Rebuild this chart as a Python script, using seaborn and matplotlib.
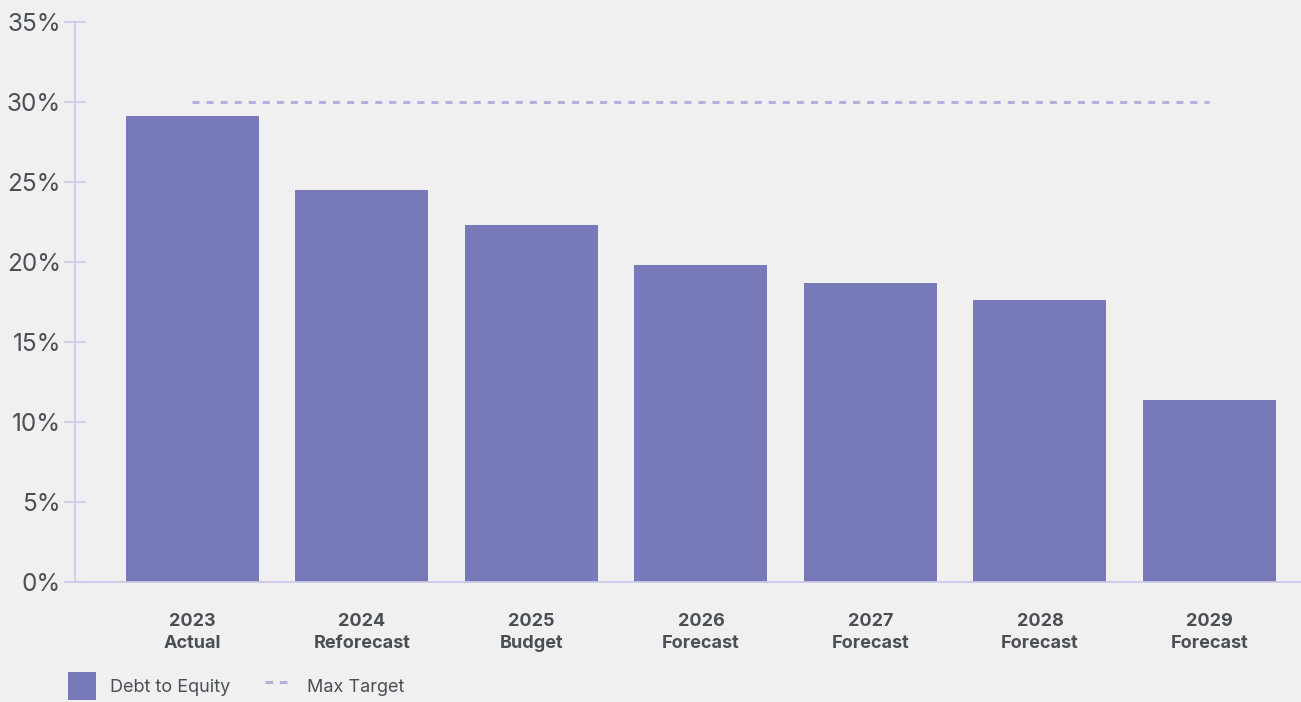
import matplotlib
matplotlib.use("Agg")
import matplotlib.pyplot as plt
import seaborn as sns
import pandas as pd
from matplotlib.patches import Patch
from matplotlib.lines import Line2D
from matplotlib.ticker import FuncFormatter

years = ["2023", "2024", "2025", "2026", "2027", "2028", "2029"]
stages = ["Actual", "Reforecast", "Budget", "Forecast", "Forecast", "Forecast", "Forecast"]
debt_to_equity = [29.1, 24.5, 22.3, 19.8, 18.7, 17.6, 11.4]
max_target = [30, 30, 30, 30, 30, 30, 30]
y_ticks = [0, 5, 10, 15, 20, 25, 30, 35]

labels = [f"{y}\n{s}" for y, s in zip(years, stages)]
df = pd.DataFrame({"label": labels, "value": debt_to_equity, "target": max_target})

bg = "#f0f0f0"
bar_color = "#7879b8"
target_color = "#b3b0dd"
axis_color = "#cbc8ec"
text_color = "#4a4f55"

sns.set_theme(style="white")
plt.rcParams['font.family'] = ['Inter', 'DejaVu Sans']

fig = plt.figure(figsize=(13.01, 7.02), dpi=100, facecolor=bg)
ax = fig.add_axes([75/1301, 120/702, 1 - 75/1301, (582-22)/702])
ax.set_facecolor(bg)

sns.barplot(data=df, x="label", y="value", color=bar_color, saturation=1,
            width=0.785, ax=ax, zorder=2, linewidth=0, edgecolor="none")
sns.lineplot(x=list(range(len(labels))), y=df["target"], ax=ax, color=target_color,
             linewidth=2.2, zorder=3)
ax.lines[-1].set_linestyle((0, (2.3, 2.3)))

ax.set_xlim(-0.693, 6.54)
ax.set_ylim(0, 35)
ax.set_yticks(y_ticks)
ax.yaxis.set_major_formatter(FuncFormatter(lambda v, p: f"{int(v)}%"))
ax.set_xlabel("")
ax.set_ylabel("")

for s in ["top", "right"]:
    ax.spines[s].set_visible(False)
for s in ["left", "bottom"]:
    ax.spines[s].set_color(axis_color)
    ax.spines[s].set_linewidth(1.2)

ax.tick_params(axis="y", which="major", direction="inout", length=16, width=1.2,
               color=axis_color, labelsize=17.5, labelcolor=text_color, pad=2, left=True)
ax.tick_params(axis="x", length=0, pad=22)
for t in ax.get_xticklabels():
    t.set_fontsize(13)
    t.set_fontweight("bold")
    t.set_color(text_color)
    t.set_linespacing(1.45)

handles = [Patch(facecolor=bar_color, edgecolor="none", label="Debt to Equity"),
           Line2D([0], [0], color=target_color, linewidth=2.2, linestyle=(0, (2.5, 2.2)),
                  label="Max Target")]
fig.legend(handles=handles, loc="lower left", bbox_to_anchor=(68/1301, 2/702), ncol=2,
           frameon=False, fontsize=13, labelcolor=text_color, handlelength=1.55,
           handleheight=2.02, handletextpad=0.8, columnspacing=1.9,
           borderpad=0, borderaxespad=0)

fig.savefig("out.png", dpi=100, facecolor=bg)
